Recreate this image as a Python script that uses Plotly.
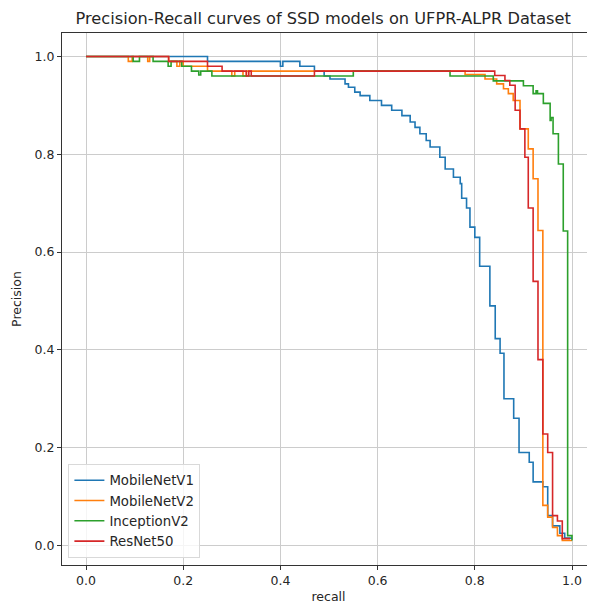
import plotly.graph_objects as go

# Step curves: precision[i] is held from recall[i] to recall[i+1]
mnv1_recall = [0, 0.25, 0.40, 0.405, 0.44, 0.47, 0.49, 0.502, 0.533, 0.54, 0.553, 0.564, 0.584,
               0.608, 0.629, 0.65, 0.667, 0.677, 0.687, 0.70, 0.708, 0.728, 0.739, 0.756, 0.77,
               0.773, 0.783, 0.79, 0.80, 0.81, 0.831, 0.842, 0.852, 0.86, 0.88, 0.891, 0.912,
               0.92, 0.94, 0.95, 0.96, 0.975, 0.985, 1.0]
mnv1_precision = [1.0, 0.99, 0.98, 0.99, 0.98, 0.97, 0.96, 0.954, 0.944, 0.937, 0.927, 0.92, 0.91,
                  0.90, 0.89, 0.879, 0.866, 0.855, 0.842, 0.828, 0.815, 0.794, 0.77, 0.753, 0.74,
                  0.71, 0.69, 0.651, 0.63, 0.571, 0.49, 0.423, 0.393, 0.30, 0.26, 0.19, 0.17,
                  0.13, 0.12, 0.061, 0.04, 0.025, 0.015, 0.015]

mnv2_recall = [0, 0.087, 0.095, 0.127, 0.131, 0.17, 0.187, 0.193, 0.20, 0.25, 0.30, 0.306,
               0.323, 0.33, 0.78, 0.821, 0.845, 0.859, 0.869, 0.879, 0.893, 0.91, 0.92, 0.93,
               0.94, 0.95, 0.96, 0.97, 0.98, 1.0]
mnv2_precision = [1.0, 0.99, 1.0, 0.99, 1.0, 0.99, 0.98, 0.99, 0.98, 0.97, 0.96, 0.97,
                  0.96, 0.97, 0.963, 0.954, 0.944, 0.934, 0.924, 0.91, 0.852, 0.811, 0.75, 0.644,
                  0.082, 0.058, 0.037, 0.02, 0.01, 0.01]

incv2_recall = [0, 0.097, 0.11, 0.138, 0.169, 0.175, 0.197, 0.217, 0.232, 0.236, 0.259, 0.55,
                0.749, 0.838, 0.90, 0.92, 0.926, 0.929, 0.941, 0.955, 0.957, 0.961, 0.972,
                0.982, 0.991, 1.0]
incv2_precision = [1.0, 0.99, 1.0, 0.99, 0.98, 0.99, 0.98, 0.97, 0.962, 0.97, 0.96, 0.97,
                   0.96, 0.95, 0.94, 0.924, 0.93, 0.924, 0.904, 0.869, 0.875, 0.842, 0.78,
                   0.643, 0.02, 0.01]

res50_recall = [0, 0.17, 0.25, 0.28, 0.33, 0.335, 0.34, 0.47, 0.841, 0.862, 0.872, 0.883,
                0.893, 0.903, 0.91, 0.92, 0.93, 0.94, 0.95, 0.96, 0.97, 0.98, 0.996]
res50_precision = [1.0, 0.99, 0.98, 0.97, 0.96, 0.97, 0.96, 0.97, 0.961, 0.951, 0.941, 0.89,
                   0.852, 0.794, 0.69, 0.54, 0.38, 0.228, 0.19, 0.061, 0.05, 0.014, 0.014]

series = [
    ("MobileNetV1", mnv1_recall, mnv1_precision, "#1f77b4"),
    ("MobileNetV2", mnv2_recall, mnv2_precision, "#ff7f0e"),
    ("InceptionV2", incv2_recall, incv2_precision, "#2ca02c"),
    ("ResNet50", res50_recall, res50_precision, "#d62728"),
]

tick_vals = [0.0, 0.2, 0.4, 0.6, 0.8, 1.0]
tick_text = ["0.0", "0.2", "0.4", "0.6", "0.8", "1.0"]

fig = go.Figure()
for i, (name, r, p, c) in enumerate(series):
    fig.add_trace(go.Scatter(x=r, y=p, mode="lines", name=name,
                             line=dict(color=c, width=1.6, shape="hv"),
                             legendgroup=f"g{i}"))

axis_common = dict(
    showgrid=True, gridcolor="#cccccc", gridwidth=1,
    showline=True, linecolor="#333333", linewidth=1, mirror=True,
    ticks="outside", ticklen=4, tickcolor="#333333",
    tickvals=tick_vals, ticktext=tick_text,
    zeroline=False, automargin=False,
    tickfont=dict(size=12.5, color="#262626"),
)

# page body has an 8px margin; figure sized so the page does not overflow the window
fig.update_layout(
    width=587, height=596,
    margin=dict(l=54, r=0, t=25, b=39),
    paper_bgcolor="white", plot_bgcolor="white",
    font=dict(family="DejaVu Sans", color="#262626"),
    title=dict(text="Precision-Recall curves of SSD models on UFPR-ALPR Dataset",
               x=0.537, xanchor="center", y=1 - 10 / 596, yanchor="middle",
               font=dict(size=16.2, color="#262626")),
    xaxis=dict(range=[-0.0494, 1.0473],
               title=dict(text="recall", font=dict(size=12.5), standoff=14),
               **axis_common),
    yaxis=dict(range=[-0.04, 1.048],
               title=dict(text="Precision", font=dict(size=12.5), standoff=10),
               **axis_common),
    legend=dict(x=0.012, y=0.013, xanchor="left", yanchor="bottom",
                bgcolor="rgba(255,255,255,0.8)", bordercolor="#d9d9d9", borderwidth=1,
                font=dict(size=13.3, color="#262626"), tracegroupgap=0,
                itemwidth=30),
    showlegend=True,
)

fig.write_html("out.html")
